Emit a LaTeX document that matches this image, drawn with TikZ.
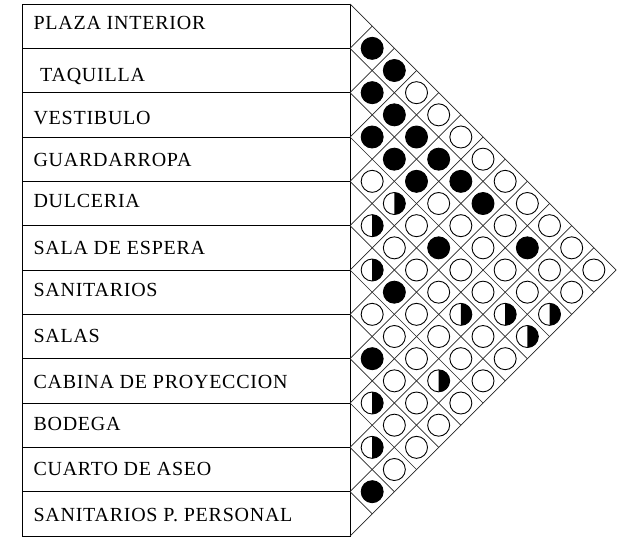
\documentclass[tikz,border=0pt]{standalone}
\usepackage{fontspec}
\setmainfont{Liberation Serif}
\newfontfamily\lblfont[LetterSpace=3.8]{Liberation Serif}
\begin{document}
\begin{tikzpicture}[x=1pt,y=-1pt,
  rowbox/.style={draw, line width=0.9pt, minimum width=328pt, minimum height=44.333pt, inner sep=0pt, outer sep=0pt, anchor=north west},
  rowlabel/.style={anchor=base west, inner sep=0pt, font=\lblfont\fontsize{20}{24}\selectfont},
  gridline/.style={line width=0.7pt, black!85},
  cellE/.style={circle, draw, line width=0.9pt, minimum size=22pt, inner sep=0pt, outer sep=0pt, fill=white},
  cellH/.style={cellE},
  cellB/.style={cellE, fill=black}
]
\useasboundingbox (0,0) rectangle (617,536);
\foreach \k/\txt/\bl/\lx in {
  0/PLAZA INTERIOR/29.3/33.3,
  1/TAQUILLA/81.7/40,
  2/VESTIBULO/124/33.3,
  3/GUARDARROPA/166.7/33.3,
  4/DULCERIA/207.3/33.3,
  5/SALA DE ESPERA/254/33.3,
  6/SANITARIOS/296.7/33.3,
  7/SALAS/342.7/33.3,
  8/CABINA DE PROYECCION/388.3/33.3,
  9/BODEGA/430.7/33.3,
  10/CUARTO DE ASEO/475/33.3,
  11/SANITARIOS P. PERSONAL/521.7/33.3} {
  \node[rowbox] (r\k) at (22, {4+\k*44.333}) {};
  \node[rowlabel] (t\k) at (\lx,\bl) {\txt};
}
\foreach \k in {0,...,12} {
  \coordinate (p\k) at (350, {4+2*\k*22.1667});
  \coordinate (d\k) at ({350+(12-\k)*22.1667}, {4+(12+\k)*22.1667});
  \coordinate (u\k) at ({350+\k*22.1667}, {4+\k*22.1667});
}
\foreach \k in {0,...,11} \draw[gridline] (p\k) -- (d\k);
\foreach \k in {1,...,12} \draw[gridline] (p\k) -- (u\k);
\foreach \i/\j/\t in {
 0/1/B,1/2/B,2/3/B,3/4/E,4/5/H,5/6/H,6/7/E,7/8/B,8/9/H,9/10/H,10/11/B,
 0/2/B,1/3/B,2/4/B,3/5/H,4/6/E,5/7/B,6/8/E,7/9/E,8/10/E,9/11/E,
 0/3/E,1/4/B,2/5/B,3/6/E,4/7/E,5/8/E,6/9/E,7/10/E,8/11/E,
 0/4/E,1/5/B,2/6/E,3/7/B,4/8/E,5/9/E,6/10/H,7/11/E,
 0/5/E,1/6/B,2/7/E,3/8/E,4/9/H,5/10/E,6/11/E,
 0/6/E,1/7/B,2/8/E,3/9/E,4/10/E,5/11/E,
 0/7/E,1/8/E,2/9/E,3/10/H,4/11/E,
 0/8/E,1/9/B,2/10/E,3/11/H,
 0/9/E,1/10/E,2/11/H,
 0/10/E,1/11/E,
 0/11/E} {
  \node[cell\t] (c\i-\j) at ({350+(\j-\i)*22.1667}, {4+(\i+\j+1)*22.1667}) {};
}
\foreach \i/\j in {4/5,5/6,8/9,9/10,3/5,6/10,4/9,3/10,3/11,2/11}
  \fill[black] (c\i-\j.north) arc[start angle=90, end angle=-90, radius=11pt] -- cycle;
\end{tikzpicture}
\end{document}
